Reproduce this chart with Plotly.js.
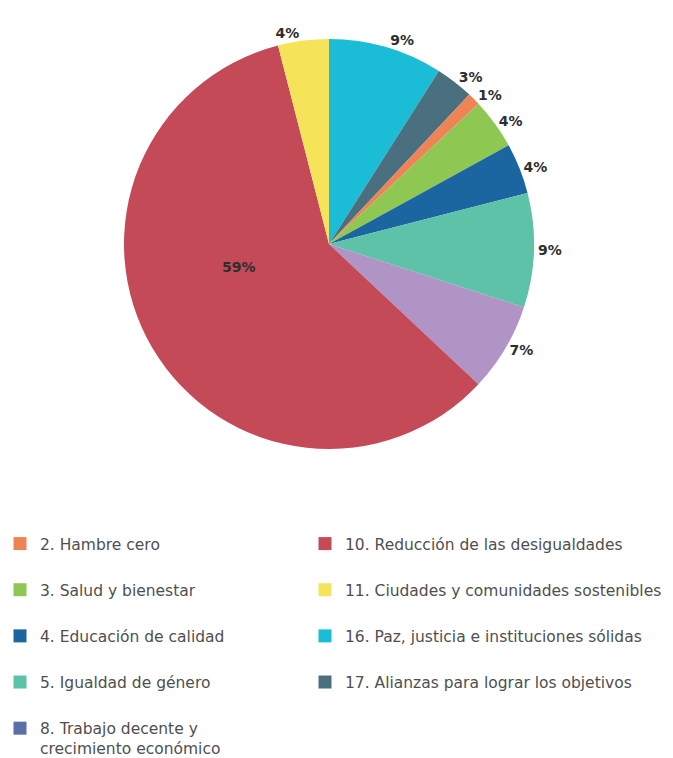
<!DOCTYPE html>
<html>
<head>
<meta charset="utf-8">
<script src="https://cdn.plot.ly/plotly-3.0.1.min.js"></script>
<style>html,body{margin:0;padding:0;background:#fff;}#chart{width:673px;height:758px;}
#chart .textline{display:none;}</style>
</head>
<body>
<div id="chart"></div>
<script>
// Slice order (clockwise from 12 o'clock)
const sliceLabels = [
  "16. Paz, justicia e instituciones sólidas",
  "17. Alianzas para lograr los objetivos",
  "2. Hambre cero",
  "3. Salud y bienestar",
  "4. Educación de calidad",
  "5. Igualdad de género",
  "8. Trabajo decente y crecimiento económico",
  "10. Reducción de las desigualdades",
  "11. Ciudades y comunidades sostenibles"
];
const sliceValues = [9, 3, 1, 4, 4, 9, 7, 59, 4];
const sliceColors = ["#1bbdd6", "#4a6f7e", "#ee8456", "#8fc753", "#1b66a0", "#5dc2a7", "#b094c6", "#c44a58", "#f5e35a"];

// Legend entries (as shown in the reference)
const legendCol1 = ["2. Hambre cero", "3. Salud y bienestar", "4. Educación de calidad", "5. Igualdad de género", "8. Trabajo decente y<br>crecimiento económico"];
const legendCol1Colors = ["#ee8456", "#8fc753", "#1b66a0", "#5dc2a7", "#5b6ea6"];
const legendCol2 = ["10. Reducción de las desigualdades", "11. Ciudades y comunidades sostenibles", "16. Paz, justicia e instituciones sólidas", "17. Alianzas para lograr los objetivos"];
const legendCol2Colors = ["#c44a58", "#f5e35a", "#1bbdd6", "#4a6f7e"];

const W = 673, H = 758;
const bigIdx = sliceValues.indexOf(Math.max(...sliceValues));
const labelFont = {family: "DejaVu Sans", size: 14, color: "#2e2e2e", weight: "bold"};
const traces = [{
  type: "pie",
  labels: sliceLabels,
  values: sliceValues,
  sort: false,
  direction: "clockwise",
  rotation: 0,
  marker: {colors: sliceColors, line: {color: "#ffffff", width: 0}},
  texttemplate: sliceValues.map((v, i) => i === bigIdx ? " " : "%{value}%"),
  textposition: sliceValues.map((v, i) => i === bigIdx ? "none" : "outside"),
  textfont: labelFont,
  showlegend: false,
  hoverinfo: "label+percent",
  domain: {x: [124 / W, 534 / W], y: [1 - 449 / H, 1 - 39 / H]}
}];

function addLegend(labels, colors, legendName) {
  labels.forEach((lab, i) => {
    traces.push({
      type: "scatter", mode: "markers", x: [null], y: [null],
      name: lab, legend: legendName, legendgroup: legendName + i,
      marker: {symbol: "square", size: 13, color: colors[i]},
      hoverinfo: "skip"
    });
  });
}
addLegend(legendCol1, legendCol1Colors, "legend");
addLegend(legendCol2, legendCol2Colors, "legend2");

const legendCommon = {
  orientation: "v", yanchor: "top", xanchor: "left", valign: "top",
  font: {family: "DejaVu Sans", size: 15.5, color: "#4f4f4f"},
  bgcolor: "rgba(0,0,0,0)", tracegroupgap: 23, itemclick: false
};

const layout = {
  width: W, height: H,
  margin: {l: 0, r: 0, t: 0, b: 0, autoexpand: false},
  paper_bgcolor: "#ffffff", plot_bgcolor: "#ffffff",
  xaxis: {visible: false}, yaxis: {visible: false},
  legend: Object.assign({}, legendCommon, {x: 0, y: 1 - 527 / H}),
  legend2: Object.assign({}, legendCommon, {x: 305 / W, y: 1 - 527 / H}),
  annotations: [{
    xref: "paper", yref: "paper", x: 239 / W, y: 1 - 267 / H,
    text: sliceValues[bigIdx] + "%", showarrow: false, font: labelFont
  }]
};

Plotly.newPlot("chart", traces, layout, {displayModeBar: false, staticPlot: true});
</script>
</body>
</html>
